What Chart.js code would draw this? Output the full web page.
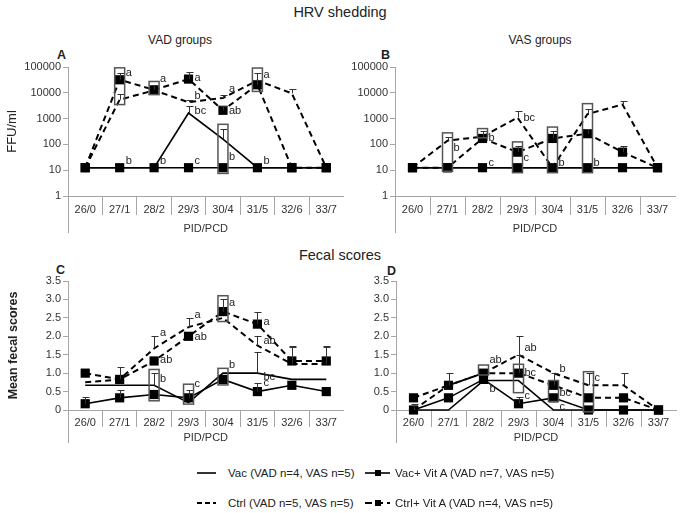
<!DOCTYPE html>
<html lang="en">

<head>
    <meta charset="UTF-8">
    <title>HRV shedding and fecal scores</title>
    <script src="https://cdn.jsdelivr.net/npm/chart.js@4.4.0/dist/chart.umd.min.js"></script>
    <style>
        body { margin: 0; background: #fff; font-family: "Liberation Sans", Arial, sans-serif; color: #222; }
        #wrap { position: relative; width: 683px; height: 513px; overflow: hidden; }
        .panel { position: absolute; }
        .panel canvas { display: block; }
        .lbl { position: absolute; white-space: nowrap; line-height: 16px; height: 16px; }
        .ctr { width: 200px; text-align: center; }
        .big { font-size: 14.5px; }
        .sub { font-size: 12px; }
        .tag { font-size: 12.5px; font-weight: bold; }
        .leg { font-size: 11.5px; color: #222; }
        svg { position: absolute; }
    </style>
</head>

<body>
    <div id="wrap">
        <div class="lbl ctr big" style="left:240px;top:4px">HRV shedding</div>
        <div class="lbl ctr sub" style="left:80px;top:32px">VAD groups</div>
        <div class="lbl ctr sub" style="left:440px;top:32px">VAS groups</div>
        <div class="lbl tag" style="left:57px;top:47px">A</div>
        <div class="lbl tag" style="left:381px;top:47px">B</div>
        <div class="lbl ctr big" style="left:240px;top:247px">Fecal scores</div>
        <div class="lbl tag" style="left:56px;top:262px">C</div>
        <div class="lbl tag" style="left:387px;top:263px">D</div>

        <div class="panel" style="left:0;top:50px"><canvas id="chartA" width="350" height="190"></canvas></div>
        <div class="panel" style="left:340px;top:50px"><canvas id="chartB" width="343" height="190"></canvas></div>
        <div class="panel" style="left:0;top:262px"><canvas id="chartC" width="350" height="190"></canvas></div>
        <div class="panel" style="left:340px;top:262px"><canvas id="chartD" width="343" height="190"></canvas></div>

        <!-- legend -->
        <svg style="left:196px;top:467px" width="21" height="12"><line x1="1" y1="6" x2="20" y2="6" stroke="#000" stroke-width="1.6"/></svg>
        <div class="lbl leg" style="left:228px;top:465px">Vac (VAD n=4, VAS n=5)</div>
        <svg style="left:364px;top:467px" width="27" height="12"><line x1="1" y1="6" x2="26" y2="6" stroke="#000" stroke-width="1.6"/><rect x="11" y="3" width="6" height="6" fill="#000"/></svg>
        <div class="lbl leg" style="left:395px;top:465px">Vac+ Vit A (VAD n=7, VAS n=5)</div>
        <svg style="left:196px;top:497px" width="21" height="12"><line x1="1" y1="6" x2="20" y2="6" stroke="#000" stroke-width="2" stroke-dasharray="5 3"/></svg>
        <div class="lbl leg" style="left:228px;top:495px">Ctrl (VAD n=5, VAS n=5)</div>
        <svg style="left:364px;top:497px" width="27" height="12"><line x1="1" y1="6" x2="26" y2="6" stroke="#000" stroke-width="2" stroke-dasharray="7 4"/><rect x="11" y="3" width="6" height="6" fill="#000"/></svg>
        <div class="lbl leg" style="left:395px;top:495px">Ctrl+ Vit A (VAD n=4, VAS n=5)</div>
    </div>

    <script>
        const categories = ['26/0', '27/1', '28/2', '29/3', '30/4', '31/5', '32/6', '33/7']
        const logTicks = [1, 10, 100, 1000, 10000, 100000]

        // A - HRV shedding, VAD groups (FFU/ml)
        const vadShedVac = [12.5, 12.5, 12.5, 1650, 160, 12.5, 12.5, 12.5]
        const vadShedVacA = [12.5, 12.5, 12.5, 12.5, 12.5, 12.5, 12.5, 12.5]
        const vadShedCtrl = [12.5, 5400, 12500, 4300, 6300, 30000, 9500, 12.5]
        const vadShedCtrlA = [12.5, 32000, 13000, 34000, 2100, 20500, 12.5, 12.5]
        const vadShedVacUp = [null, null, null, 3000, 380, null, null, null]
        const vadShedCtrlUp = [null, 9300, null, 5100, 8500, 60000, 13500, null]
        const vadShedCtrlAUp = [null, 58000, 20500, 62000, 3200, 30000, null, null]
        const vadShedBoxes = [[1, 3500, 93000], [2, 8500, 27500], [4, 7.5, 600], [5, 11300, 91000]]
        const vadShedLetters = [[1, 60000, 'a'], [2, 34000, 'a'], [3, 37000, 'a'], [3, 7300, 'b'], [4, 14000, 'a'],
            [4, 1900, 'ab'], [5, 50000, 'a'], [3, 1900, 'bc'], [1, 22, 'b'], [2, 22, 'b'], [3, 22, 'c'], [4, 33, 'b'], [5, 22, 'b']]

        // B - HRV shedding, VAS groups (FFU/ml)
        const vasShedVac = [12.5, 12.5, 12.5, 12.5, 12.5, 12.5, 12.5, 12.5]
        const vasShedVacA = [12.5, 12.5, 12.5, 12.5, 12.5, 12.5, 12.5, 12.5]
        const vasShedCtrl = [12.5, 140, 200, 1100, 12.5, 1500, 3500, 12.5]
        const vasShedCtrlA = [12.5, 12.5, 170, 50, 170, 260, 50, 12.5]
        const vasShedCtrlUp = [null, 195, null, 1900, null, 2400, 4900, null]
        const vasShedCtrlAUp = [null, null, 320, 85, 320, 400, 83, null]
        const vasShedBoxes = [[1, 9, 280], [2, 180, 410], [3, 8, 125], [4, 8, 470], [5, 8, 3800]]
        const vasShedLetters = [[1, 74, 'b'], [2, 180, 'b'], [2, 19.5, 'c'], [3, 1070, 'bc'], [3, 30, 'c'], [4, 19.5, 'b'], [5, 19.5, 'b']]

        // C - fecal scores, VAD groups
        const vadFecVac = [0.67, 0.67, 0.67, 0.2, 1.0, 1.0, 0.83, 0.83]
        const vadFecVacA = [0.17, 0.33, 0.42, 0.33, 0.83, 0.5, 0.67, 0.5]
        const vadFecCtrl = [0.75, 0.83, 1.67, 2.25, 2.5, 1.75, 1.25, 1.25]
        const vadFecCtrlA = [1.0, 0.83, 1.33, 2.0, 2.67, 2.33, 1.33, 1.33]
        const vadFecVacUp = [null, null, 1.0, null, null, 1.58, null, null]
        const vadFecVacAUp = [0.34, 0.54, null, 0.54, null, 0.72, null, null]
        const vadFecCtrlUp = [null, null, 2.0, 2.5, null, 2.0, 1.74, 1.74]
        const vadFecCtrlAUp = [null, 1.17, null, null, 3.0, 2.67, 1.7, 1.7]
        const vadFecBoxes = [[2, 0.25, 1.1], [3, 0.16, 0.7], [4, 0.68, 1.13], [4, 2.4, 3.1]]
        const vadFecLetters = [[2, 2.1, 'a'], [2, 1.36, 'ab'], [2, 0.84, 'b'], [3, 2.58, 'a'], [3, 1.97, 'ab'], [3, 0.7, 'c'],
            [4, 2.91, 'a'], [4, 1.21, 'b'], [5, 2.38, 'a'], [5, 1.87, 'ab'], [5, 0.9, 'bc'], [5, 0.72, 'c']]

        // D - fecal scores, VAS groups
        const vasFecVac = [0, 0, 0.8, 0.8, 0, 0, 0, 0]
        const vasFecVacA = [0, 0.33, 0.83, 0.17, 0.33, 0, 0, 0]
        const vasFecCtrl = [0, 0.67, 1.0, 1.5, 1.0, 0.67, 0.67, 0]
        const vasFecCtrlA = [0.33, 0.67, 1.0, 1.0, 0.67, 0.33, 0.33, 0]
        const vasFecVacAUp = [null, null, null, 0.34, null, null, null, null]
        const vasFecCtrlUp = [0.16, 1.0, null, 2.0, null, 1.0, 1.0, null]
        const vasFecCtrlAUp = [null, null, null, 1.5, 1.0, null, null, null]
        const vasFecBoxes = [[2, 0.95, 1.22], [3, 0.47, 1.24], [4, 0.23, 0.8], [5, -0.05, 1.04]]
        const vasFecLetters = [[2, 1.35, 'ab'], [2, 0.56, 'b'], [3, 1.67, 'ab'], [3, 1.01, 'bc'], [3, 0.38, 'c'],
            [4, 1.11, 'b'], [4, 0.47, 'bc'], [4, 0.09, 'c'], [5, 0.87, 'c']]

        Chart.defaults.font.family = '"Liberation Sans", Arial, sans-serif'
        Chart.defaults.color = '#333'

        const axisGrey = '#a6a6a6'

        // error bars (upper only), outlined boxes and significance letters
        const annotations = {
            id: 'annotations',
            afterDatasetsDraw(chart, args, o) {
                const { ctx, chartArea, scales: { x, y } } = chart
                ctx.save()
                // value axis continues down past the category labels, like Excel does
                ctx.strokeStyle = axisGrey
                ctx.lineWidth = 1
                ctx.beginPath()
                ctx.moveTo(Math.round(chartArea.left) + 0.5, chartArea.bottom)
                ctx.lineTo(Math.round(chartArea.left) + 0.5, chartArea.bottom + o.axisDrop)
                ctx.stroke()

                ctx.strokeStyle = '#333'
                o.errors.forEach(([vals, ups]) => {
                    ups.forEach((u, i) => {
                        if (u == null) return
                        const px = Math.round(x.getPixelForValue(i)) + 0.5
                        const y0 = y.getPixelForValue(vals[i])
                        const y1 = Math.round(y.getPixelForValue(u)) + 0.5
                        ctx.beginPath()
                        ctx.moveTo(px, y0)
                        ctx.lineTo(px, y1)
                        ctx.moveTo(px - 3, y1)
                        ctx.lineTo(px + 4, y1)
                        ctx.stroke()
                    })
                })

                ctx.strokeStyle = '#555'
                ctx.lineWidth = 1.5
                o.boxes.forEach(([i, lo, hi]) => {
                    const px = x.getPixelForValue(i)
                    const top = y.getPixelForValue(hi)
                    const bot = y.getPixelForValue(lo)
                    ctx.strokeRect(px - 5, top, 10, bot - top)
                })

                ctx.fillStyle = '#222'
                ctx.font = '11px "Liberation Sans", Arial, sans-serif'
                ctx.textBaseline = 'middle'
                o.letters.forEach(([i, v, t]) => {
                    ctx.fillText(t, x.getPixelForValue(i) + 6, y.getPixelForValue(v))
                })
                ctx.restore()
            }
        }

        function series(label, data, dashed, marker) {
            return {
                label,
                data,
                borderColor: '#000',
                backgroundColor: '#000',
                borderWidth: dashed ? 2 : 1.6,
                borderDash: dashed ? [6, 4] : [],
                pointStyle: 'rect',
                pointRadius: marker ? 6.5 : 0,
                pointHoverRadius: marker ? 6.5 : 0,
                pointBorderWidth: 0,
                tension: 0,
                clip: false
            }
        }

        function makePanel(id, p) {
            const yAxis = p.log ? {
                type: 'logarithmic',
                min: 1,
                max: 100000,
                afterBuildTicks: s => { s.ticks = logTicks.map(v => ({ value: v })) },
                ticks: { callback: v => String(v), padding: 2, font: { size: 11 } }
            } : {
                type: 'linear',
                min: 0,
                max: 3.5,
                ticks: { stepSize: 0.5, padding: 2, font: { size: 11 } }
            }
            Object.assign(yAxis, {
                grid: { drawOnChartArea: false, tickLength: 5, color: axisGrey },
                border: { color: axisGrey },
                title: p.yTitle ? { display: true, text: p.yTitle, color: '#222', font: p.yFont, padding: { top: p.yTitlePad, bottom: 0 } } : { display: false },
                afterFit: s => { s.width = p.yWidth }
            })

            return new Chart(document.getElementById(id), {
                type: 'line',
                data: {
                    labels: categories,
                    datasets: [
                        series('Vac+ Vit A', p.vacA, false, true),
                        series('Ctrl+ Vit A', p.ctrlA, true, true),
                        series('Vac', p.vac, false, false),
                        series('Ctrl', p.ctrl, true, false)
                    ]
                },
                options: {
                    responsive: false,
                    animation: false,
                    events: [],
                    layout: { padding: p.pad },
                    scales: {
                        x: {
                            offset: true,
                            grid: {
                                drawOnChartArea: false,
                                tickLength: p.tickLen,
                                offset: true,
                                color: c => c.type === 'tick' ? axisGrey : 'rgba(0,0,0,0)'
                            },
                            border: { color: axisGrey },
                            ticks: { padding: p.labelPad, maxRotation: 0, autoSkip: false, font: { size: 11 } },
                            title: { display: true, text: 'PID/PCD', padding: 0, font: { size: 11 } },
                            afterFit: s => { s.height = p.xHeight }
                        },
                        y: yAxis
                    },
                    plugins: {
                        legend: { display: false },
                        tooltip: { enabled: false },
                        annotations: { axisDrop: p.axisDrop, errors: p.errors, boxes: p.boxes, letters: p.letters }
                    }
                },
                plugins: [annotations]
            })
        }

        makePanel('chartA', {
            log: true, vac: vadShedVac, vacA: vadShedVacA, ctrl: vadShedCtrl, ctrlA: vadShedCtrlA,
            errors: [[vadShedVac, vadShedVacUp], [vadShedCtrl, vadShedCtrlUp], [vadShedCtrlA, vadShedCtrlAUp]],
            boxes: vadShedBoxes, letters: vadShedLetters,
            yTitle: 'FFU/ml', yFont: { size: 13 }, yTitlePad: 5, yWidth: 68,
            pad: { top: 17, right: 2, bottom: 4, left: 0 }, tickLen: 19, labelPad: -12, xHeight: 40, axisDrop: 37
        })

        makePanel('chartB', {
            log: true, vac: vasShedVac, vacA: vasShedVacA, ctrl: vasShedCtrl, ctrlA: vasShedCtrlA,
            errors: [[vasShedCtrl, vasShedCtrlUp], [vasShedCtrlA, vasShedCtrlAUp]],
            boxes: vasShedBoxes, letters: vasShedLetters,
            yTitle: null, yWidth: 55,
            pad: { top: 17, right: 8, bottom: 4, left: 0 }, tickLen: 19, labelPad: -12, xHeight: 40, axisDrop: 37
        })

        makePanel('chartC', {
            log: false, vac: vadFecVac, vacA: vadFecVacA, ctrl: vadFecCtrl, ctrlA: vadFecCtrlA,
            errors: [[vadFecVac, vadFecVacUp], [vadFecVacA, vadFecVacAUp], [vadFecCtrl, vadFecCtrlUp], [vadFecCtrlA, vadFecCtrlAUp]],
            boxes: vadFecBoxes, letters: vadFecLetters,
            yTitle: 'Mean fecal scores', yFont: { size: 12.5, weight: 'bold' }, yTitlePad: 6, yWidth: 68,
            pad: { top: 19, right: 2, bottom: 7, left: 0 }, tickLen: 17, labelPad: -11, xHeight: 35, axisDrop: 33
        })

        makePanel('chartD', {
            log: false, vac: vasFecVac, vacA: vasFecVacA, ctrl: vasFecCtrl, ctrlA: vasFecCtrlA,
            errors: [[vasFecVacA, vasFecVacAUp], [vasFecCtrl, vasFecCtrlUp], [vasFecCtrlA, vasFecCtrlAUp]],
            boxes: vasFecBoxes, letters: vasFecLetters,
            yTitle: null, yWidth: 56,
            pad: { top: 19, right: 7, bottom: 7, left: 0 }, tickLen: 17, labelPad: -11, xHeight: 35, axisDrop: 33
        })
    </script>
</body>

</html>
